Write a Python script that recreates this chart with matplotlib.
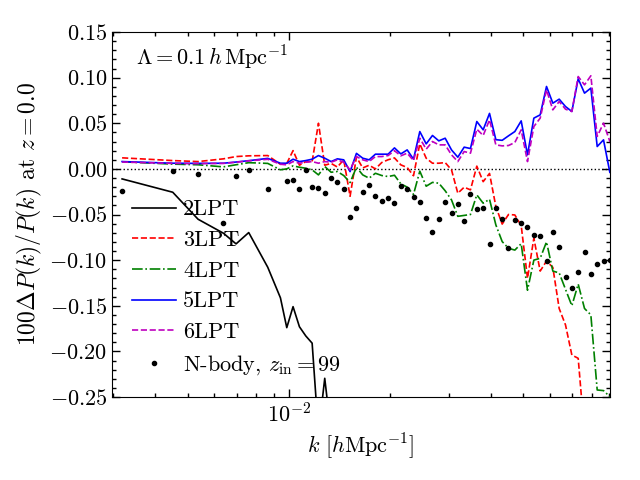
import matplotlib
matplotlib.use("Agg")
import matplotlib.pyplot as plt
from matplotlib.ticker import MultipleLocator, NullFormatter, FuncFormatter

plt.rcParams.update({
    "font.family": "serif",
    "font.serif": ["cmr10", "DejaVu Serif"],
    "mathtext.fontset": "cm",
    "axes.formatter.use_mathtext": True,
    "axes.unicode_minus": True,
})

# k bins used by the LPT curves
k_lines = [0.003183, 0.004506, 0.005362, 0.006380, 0.006959, 0.007591, 0.008649,
           0.009436, 0.009856, 0.01029, 0.01075, 0.01123, 0.01173, 0.01225, 0.01279,
           0.01336, 0.01395, 0.01457, 0.01522, 0.01590, 0.01660, 0.01734, 0.01811,
           0.01892, 0.01976, 0.02064, 0.02156, 0.02252, 0.02352, 0.02456, 0.02566,
           0.02679, 0.02798, 0.02923, 0.03053, 0.03188, 0.03330, 0.03477, 0.03632,
           0.03794, 0.03963, 0.04139, 0.04323, 0.04514, 0.04715, 0.04925, 0.05143,
           0.05372, 0.05611, 0.05860, 0.06120, 0.06392, 0.06676, 0.06973, 0.07283,
           0.07606, 0.07944, 0.08298, 0.08666, 0.09052, 0.09456]

lpt2 = [-0.011, -0.0256, -0.0552, -0.0705, -0.0822, -0.0698, -0.1078, -0.1413, -0.174,
        -0.151, -0.173, -0.1831, -0.191, -0.29, -0.2295, -0.29]

lpt3 = [0.0121, 0.0091, 0.0080, 0.0110, 0.0135, 0.0143, 0.0146, 0.005, 0.006,
        0.020, 0.004, 0.008, 0.008, 0.050, 0.004, 0.006, 0.002, 0.010, -0.030,
        0.013, 0.001, 0.004, 0.000, 0.007, 0.010, 0.012, 0.0044, 0.0015, -0.0075,
        0.0274, 0.0117, 0.0062, 0.0062, 0.0069, -0.0011, -0.0267, -0.0201, -0.0230,
        0.0030, -0.0140, -0.0050, -0.0413, -0.0605, -0.0500, -0.0505, -0.0620,
        -0.120, -0.076, -0.112, -0.101, -0.108, -0.153, -0.171, -0.204, -0.2076, -0.29]

lpt4 = [0.0078, 0.0052, 0.0045, 0.0022, 0.0045, 0.0068, 0.0060, -0.001, 0.000,
        0.0033, 0.0018, 0.0007, -0.0011, -0.0066, 0.0026, -0.0037, -0.0029, -0.0073,
        -0.0150, 0.0018, -0.0066, -0.0102, -0.0048, -0.0073, -0.0084, -0.0070,
        -0.0164, -0.0200, -0.0280, -0.0025, -0.0190, -0.0148, -0.0157, -0.0240,
        -0.0340, -0.0520, -0.0510, -0.0500, -0.0285, -0.0376, -0.0333, -0.0614,
        -0.0797, -0.0870, -0.0890, -0.0820, -0.133, -0.100, -0.098, -0.080, -0.112,
        -0.114, -0.132, -0.150, -0.1263, -0.153, -0.160, -0.2423, -0.243, -0.2497, -0.27]

lpt5 = [0.0080, 0.0062, 0.0060, 0.0062, 0.0075, 0.0090, 0.0115, 0.0062, 0.0062,
        0.0106, 0.0080, 0.0091, 0.0106, 0.0146, 0.0117, 0.0080, 0.0110, 0.0099,
        -0.0030, 0.0170, 0.0117, 0.0099, 0.0161, 0.0161, 0.0161, 0.0230, 0.0164,
        0.0208, 0.0106, 0.0409, 0.0274, 0.0366, 0.0307, 0.0336, 0.0208, 0.0128,
        0.0238, 0.0223, 0.0519, 0.0428, 0.0608, 0.0320, 0.0313, 0.0362, 0.0409,
        0.0526, 0.0154, 0.0556, 0.0592, 0.0903, 0.0720, 0.0764, 0.0683, 0.0629,
        0.0987, 0.0830, 0.0885, 0.0245, 0.0318, -0.0040, 0.0044]

lpt6 = [0.0075, 0.0060, 0.0058, 0.0060, 0.0073, 0.0088, 0.0105, 0.0051, 0.0044,
        0.0080, 0.0062, 0.0073, 0.0080, 0.0062, 0.0080, 0.0073, 0.0099, 0.0073,
        -0.0011, 0.0135, 0.0099, 0.0080, 0.0135, 0.0135, 0.0146, 0.0199, 0.0143,
        0.0172, 0.0091, 0.0336, 0.0216, 0.0300, 0.0263, 0.0263, 0.0154, 0.0080,
        0.0190, 0.0172, 0.0435, 0.0366, 0.0537, 0.0263, 0.0252, 0.0256, 0.0289,
        0.0428, 0.0080, 0.0464, 0.0556, 0.0866, 0.0647, 0.0738, 0.0654, 0.0629,
        0.1012, 0.0921, 0.1020, 0.0355, 0.0501, 0.0300, 0.0409]

# N-body points
k_nbody = [0.003183, 0.004506, 0.005362, 0.006380, 0.006959, 0.007591, 0.008649,
           0.009856, 0.01029, 0.01075, 0.01123, 0.01173, 0.01225, 0.01279,
           0.01336, 0.01395, 0.01457, 0.01522, 0.01590, 0.01660, 0.01734, 0.01811,
           0.01892, 0.01976, 0.02064, 0.02156, 0.02252, 0.02352, 0.02456, 0.02566,
           0.02679, 0.02798, 0.02923, 0.03053, 0.03188, 0.03330, 0.03477, 0.03632,
           0.03794, 0.03963, 0.04139, 0.04323, 0.04514, 0.04715, 0.04925, 0.05143,
           0.05372, 0.05611, 0.05860, 0.06120, 0.06392, 0.06676, 0.06973, 0.07283,
           0.07606, 0.07944, 0.08298, 0.08666, 0.09052]
nbody = [-0.0238, -0.0018, -0.0060, -0.0588, -0.0073, -0.0011, -0.0226,
         -0.0130, -0.0124, -0.0220, -0.0011, -0.0197, -0.0205, -0.0260, -0.0099,
         -0.0139, -0.0225, -0.0530, -0.0431, -0.0250, -0.0177, -0.0298, -0.0351,
         -0.0318, -0.0378, -0.0186, -0.0223, -0.0311, -0.0366, -0.0534, -0.0694,
         -0.0548, -0.0366, -0.0479, -0.0387, -0.0570, -0.0272, -0.0435, -0.0424,
         -0.0826, -0.0427, -0.0550, -0.0868, -0.0559, -0.0596, -0.0638, -0.0722,
         -0.0735, -0.1007, -0.0692, -0.0852, -0.1189, -0.1303, -0.1126, -0.0910,
         -0.1155, -0.1045, -0.1009, -0.0998]

labels = ["2LPT", "3LPT", "4LPT", "5LPT", "6LPT", r"N-body, $z_{\rm in}=99$"]

fig = plt.figure(figsize=(6.4, 4.8), dpi=100)
ax = fig.add_axes([112/640, 1-397/480, (610-112)/640, (397-32)/480])

ax.axhline(0.0, color="k", ls=":", lw=1.0)
ax.plot(k_lines[:len(lpt2)], lpt2, "k-", lw=1.2, label=labels[0])
ax.plot(k_lines[:len(lpt3)], lpt3, "r--", lw=1.2, label=labels[1])
ax.plot(k_lines[:len(lpt4)], lpt4, "g-.", lw=1.2, label=labels[2])
ax.plot(k_lines[:len(lpt5)], lpt5, "b-", lw=1.2, label=labels[3])
ax.plot(k_lines[:len(lpt6)], lpt6, "m--", lw=1.2, label=labels[4])
ax.plot(k_nbody, nbody, "k.", ms=6, label=labels[5])

ax.set_xscale("log")
ax.set_xlim(0.00297, 0.0906)
ax.set_ylim(-0.25, 0.15)
ax.yaxis.set_major_locator(MultipleLocator(0.05))
ax.yaxis.set_minor_locator(MultipleLocator(0.01))
ax.yaxis.set_major_formatter(FuncFormatter(lambda v, p: r"$%.2f$" % v))
ax.xaxis.set_minor_formatter(NullFormatter())
ax.tick_params(which="both", direction="in", top=True, right=True, labelsize=16)
ax.tick_params(which="major", length=6, width=1)
ax.tick_params(which="minor", length=3, width=1)

ax.set_xlabel(r"$k\ [h\mathrm{Mpc}^{-1}]$", fontsize=16)
ax.set_ylabel(r"$100\Delta P(k)/P(k)$ at $z=0.0$", fontsize=17)
ax.text(0.048, 0.93, r"$\Lambda = 0.1\,h\,\mathrm{Mpc}^{-1}$", transform=ax.transAxes,
        fontsize=16, va="center", ha="left")

ax.legend(loc="lower left", frameon=False, fontsize=16, numpoints=1,
          handlelength=2.0, handletextpad=0.3, labelspacing=0.5)

fig.savefig("out.png", dpi=100)
